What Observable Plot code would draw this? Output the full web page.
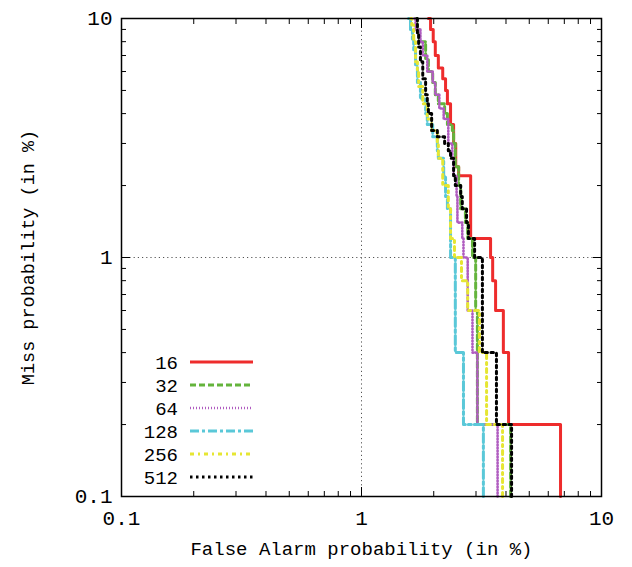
<!DOCTYPE html>
<html><head><meta charset="utf-8">
<script src="https://cdn.jsdelivr.net/npm/d3@7"></script>
<script src="https://cdn.jsdelivr.net/npm/@observablehq/plot@0.6"></script>
<style>
body{margin:0;background:#fff;}
#chart svg{display:block;}
</style></head><body><div id="chart"></div>
<script>
// Axis tick values
const majorTicks = [0.1, 1, 10];
const minorTicks = [0.2,0.3,0.4,0.5,0.6,0.7,0.8,0.9,2,3,4,5,6,7,8,9];
const tickLabels = ["0.1", "1", "10"];

// Series names (legend)
const seriesNames = ["16", "32", "64", "128", "256", "512"];

// DET staircase points: false alarm (%) and miss (%)
const fa16   = [6.75, 4.10, 3.90, 3.62, 3.52, 3.45, 2.85, 2.54, 2.47, 2.42, 2.35, 2.28, 2.24, 2.18, 2.09, 2.03, 1.99, 1.94, 1.90];
const miss16 = [0.1, 0.2, 0.4, 0.6, 0.8, 1.0, 1.2, 2.2, 2.4, 3.0, 3.6, 4.4, 5.0, 5.6, 6.2, 7.0, 8.0, 9.0, 10];

const fa32   = [4.18, 3.04, 2.99, 2.90, 2.77, 2.71, 2.59, 2.54, 2.46, 2.42, 2.39, 2.28, 2.22, 2.09, 2.03, 1.98, 1.90, 1.85, 1.74, 1.70, 1.68];
const miss32 = [0.1, 0.2, 0.6, 1.0, 1.2, 1.4, 1.6, 2.0, 2.4, 3.0, 3.4, 3.6, 4.0, 4.4, 4.8, 5.4, 6.0, 6.8, 8.0, 9.0, 10];

const fa64   = [3.69, 3.04, 2.90, 2.77, 2.66, 2.63, 2.51, 2.49, 2.42, 2.39, 2.30, 2.20, 2.11, 2.03, 1.98, 1.88, 1.80, 1.76, 1.68, 1.66];
const miss64 = [0.1, 0.2, 0.4, 0.6, 1.0, 1.2, 1.4, 1.8, 2.2, 2.6, 3.0, 3.8, 4.2, 4.8, 5.4, 6.0, 7.0, 8.0, 9.0, 10];

const fa128   = [3.22, 2.66, 2.46, 2.35, 2.28, 2.24, 2.20, 2.09, 2.07, 1.98, 1.88, 1.85, 1.76, 1.71, 1.68, 1.65, 1.63, 1.60, 1.57];
const miss128 = [0.1, 0.2, 0.4, 1.0, 1.6, 1.8, 2.2, 2.6, 2.8, 3.2, 3.6, 4.0, 4.6, 5.4, 6.4, 7.4, 8.2, 9.0, 10];

const fa256   = [3.87, 3.32, 3.10, 2.77, 2.61, 2.44, 2.35, 2.30, 2.18, 2.09, 2.07, 1.96, 1.88, 1.80, 1.73, 1.71, 1.68, 1.65, 1.62, 1.60];
const miss256 = [0.1, 0.2, 0.4, 0.6, 0.8, 1.0, 1.2, 1.6, 2.0, 2.6, 3.0, 3.4, 3.8, 4.4, 5.2, 6.0, 6.6, 8.0, 9.4, 10];

const fa512   = [4.22, 3.65, 3.19, 2.96, 2.79, 2.74, 2.63, 2.59, 2.46, 2.42, 2.35, 2.30, 2.22, 2.07, 1.96, 1.90, 1.88, 1.85, 1.80, 1.76, 1.73, 1.71, 1.70];
const miss512 = [0.1, 0.2, 0.4, 1.0, 1.2, 1.4, 1.6, 1.8, 2.0, 2.2, 2.6, 2.8, 3.0, 3.2, 3.4, 4.0, 4.4, 4.8, 5.6, 6.6, 7.6, 8.6, 10];

const faAll = [fa16, fa32, fa64, fa128, fa256, fa512];
const missAll = [miss16, miss32, miss64, miss128, miss256, miss512];

// Styles
const colors = ["#ee2c2c", "#64b43c", "#b05cc0", "#5ac8d8", "#e6e632", "#000000"];
const dashes = [null, "6,3", "1,2", "9,3,3,3", "4,4,2,4", "2.5,3.5"];
const widths = [3, 3, 2.6, 3, 3, 3];

const font = "'Liberation Mono', 'DejaVu Sans Mono', monospace";

const rows = [];
seriesNames.forEach((s, k) => faAll[k].forEach((f, i) => rows.push({series: s, fa: f, miss: missAll[k][i]})));

const lineMarks = seriesNames.map((s, k) => Plot.line(rows.filter(r => r.series === s), {
  x: "fa", y: "miss", curve: "step-before",
  stroke: colors[k], strokeWidth: widths[k], strokeDasharray: dashes[k]
}));

const fmt = d => tickLabels[majorTicks.indexOf(d)];

const plot = Plot.plot({
  width: 632, height: 567,
  marginLeft: 121, marginRight: 31, marginTop: 18, marginBottom: 71,
  style: {background: "white", fontFamily: font, color: "black"},
  x: {type: "log", domain: [0.1, 10], axis: null},
  y: {type: "log", domain: [0.1, 10], axis: null},
  marks: [
    Plot.ruleX([1], {stroke: "#555", strokeDasharray: "1.2,3"}),
    Plot.ruleY([1], {stroke: "#555", strokeDasharray: "1.2,3"}),
    ...lineMarks,
    Plot.frame({stroke: "black", strokeWidth: 1.5}),
    // inward ticks, mirrored
    Plot.axisX({anchor: "bottom", ticks: majorTicks, tickSize: -9, fill: "none", label: null}),
    Plot.axisX({anchor: "bottom", ticks: minorTicks, tickSize: -5, fill: "none", label: null}),
    Plot.axisX({anchor: "top", ticks: majorTicks, tickSize: -9, fill: "none", label: null}),
    Plot.axisX({anchor: "top", ticks: minorTicks, tickSize: -5, fill: "none", label: null}),
    Plot.axisY({anchor: "left", ticks: majorTicks, tickSize: -9, fill: "none", label: null}),
    Plot.axisY({anchor: "left", ticks: minorTicks, tickSize: -5, fill: "none", label: null}),
    Plot.axisY({anchor: "right", ticks: majorTicks, tickSize: -9, fill: "none", label: null}),
    Plot.axisY({anchor: "right", ticks: minorTicks, tickSize: -5, fill: "none", label: null}),
    // tick labels
    Plot.axisX({anchor: "bottom", ticks: majorTicks, tickSize: 0, tickPadding: 14, tickFormat: fmt, fontSize: 21, label: null}),
    Plot.axisY({anchor: "left", ticks: majorTicks, tickSize: 0, tickPadding: 9, tickFormat: fmt, fontSize: 21, label: null}),
    // axis titles
    Plot.text(["False Alarm probability (in %)"], {frameAnchor: "bottom", dy: 58, fontSize: 19, fill: "black"}),
    Plot.text(["Miss probability (in %)"], {frameAnchor: "left", dx: -93, rotate: -90, textAnchor: "middle", fontSize: 18.5, fill: "black"})
  ]
});

document.getElementById("chart").appendChild(plot);

// Legend inside the frame (bottom-left), positioned relative to the frame
const svg = d3.select(plot);
const left = 121, bottom = 567 - 71;
const lg = svg.append("g").attr("class", "legend");
seriesNames.forEach((s, k) => {
  const yy = bottom - 134 + k * 23;
  lg.append("text").attr("x", left + 57).attr("y", yy).attr("dy", "0.35em")
    .attr("text-anchor", "end").attr("font-family", font).attr("font-size", 19).attr("fill", "black").text(s);
  lg.append("line").attr("x1", left + 69).attr("x2", left + 132).attr("y1", yy).attr("y2", yy)
    .attr("stroke", colors[k]).attr("stroke-width", widths[k])
    .attr("stroke-dasharray", dashes[k]);
});
</script>
</body></html>
